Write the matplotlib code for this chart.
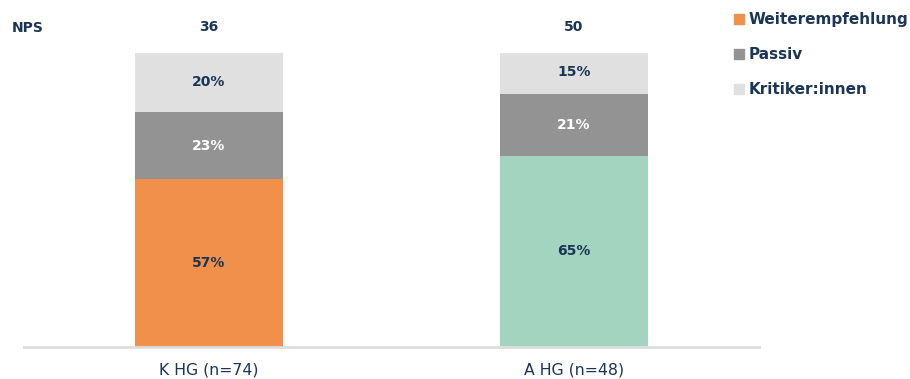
import matplotlib
matplotlib.use("Agg")
import matplotlib.pyplot as plt
from matplotlib.patches import Patch

categories = ["K HG (n=74)", "A HG (n=48)"]
nps = [36, 50]
weiter = [57, 65]
passiv = [23, 21]
kritiker = [20, 15]
series_names = ["Weiterempfehlung", "Passiv", "Kritiker:innen"]

navy = "#1B3556"
orange = "#F0904A"
green = "#A3D4C0"
grey = "#939393"
light = "#E0E0E0"

plt.rcParams['font.family'] = ['DejaVu Sans']

fig = plt.figure(figsize=(9.10, 3.79), dpi=100)
ax = fig.add_axes([24/910, 1-347/379, (759-24)/910, (347-53)/379])

x = list(range(len(categories)))
w = 0.405
ax.bar(x, weiter, w, color=[orange, green], label=series_names[0])
ax.bar(x, passiv, w, bottom=weiter, color=grey, label=series_names[1])
bottom2 = [a + b for a, b in zip(weiter, passiv)]
ax.bar(x, kritiker, w, bottom=bottom2, color=light, label=series_names[2])

fs = 10
for i in x:
    ax.text(i, weiter[i] / 2, f"{weiter[i]}%", ha="center", va="center",
            color=navy, fontsize=fs, fontweight="bold")
    ax.text(i, weiter[i] + passiv[i] / 2, f"{passiv[i]}%", ha="center", va="center",
            color="white", fontsize=fs, fontweight="bold")
    ax.text(i, bottom2[i] + kritiker[i] / 2, f"{kritiker[i]}%", ha="center", va="center",
            color=navy, fontsize=fs, fontweight="bold")
    ax.text(i, 109, str(nps[i]), ha="center", va="center", color=navy,
            fontsize=fs, fontweight="bold")

fig.text(12/910, 1-28/379, "NPS", ha="left", va="center", color=navy,
         fontsize=fs, fontweight="bold")

ax.set_xlim(-0.507, 1.507)
ax.set_ylim(0, 100)
ax.set_xticks(x)
ax.set_xticklabels(categories, color=navy, fontsize=11.3)
ax.tick_params(axis="x", length=0, pad=11)
ax.set_yticks([])
for s in ["top", "right", "left"]:
    ax.spines[s].set_visible(False)
ax.spines["bottom"].set_color("#DDDDDD")
ax.spines["bottom"].set_linewidth(2)

handles = [Patch(color=orange), Patch(color=grey), Patch(color=light)]
fig.legend(handles, series_names, loc="upper left",
           bbox_to_anchor=(728/910, 1-6/379), frameon=False,
           handlelength=0.65, handleheight=0.65, handletextpad=0.3,
           labelspacing=1.32, prop={"size": 11, "weight": "bold"},
           labelcolor=navy, borderaxespad=0)

fig.savefig("out.png", dpi=100)
